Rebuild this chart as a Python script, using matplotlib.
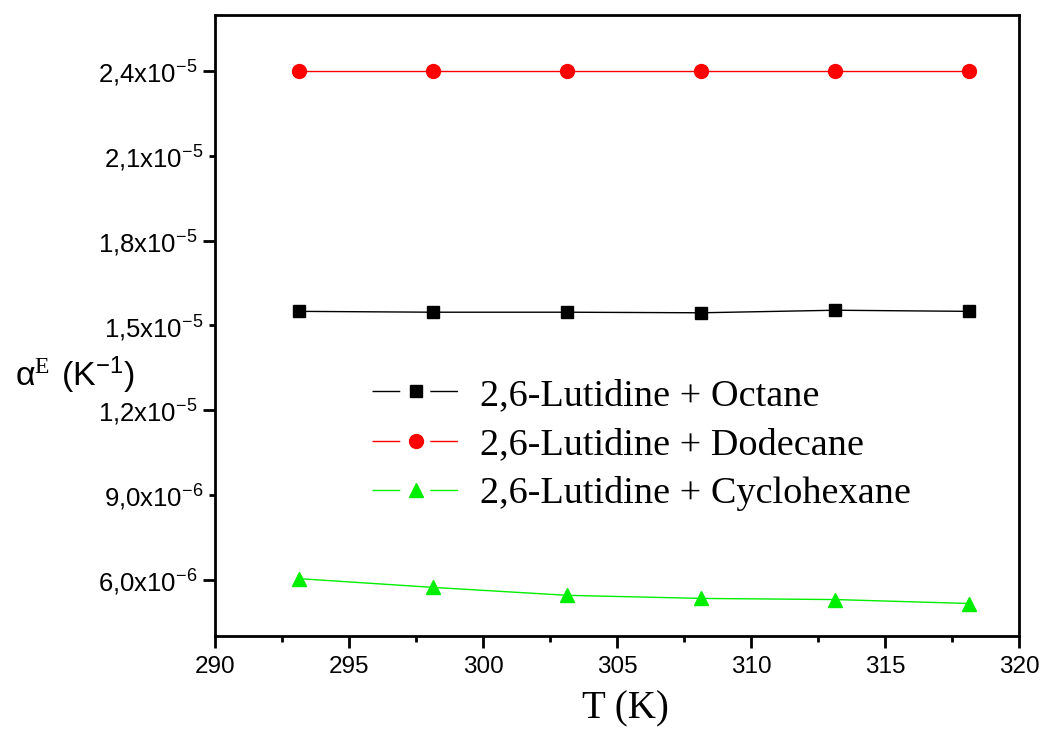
import matplotlib
matplotlib.use("Agg")
import matplotlib.pyplot as plt
from matplotlib.lines import Line2D
from matplotlib.ticker import FixedLocator, FuncFormatter

plt.rcParams["mathtext.fontset"] = "custom"
plt.rcParams["mathtext.rm"] = "Liberation Serif"
plt.rcParams["mathtext.sf"] = "Liberation Sans"
plt.rcParams["mathtext.it"] = "Liberation Sans"

# Temperatures (K)
temperature = [293.15, 298.15, 303.15, 308.15, 313.15, 318.15]

# Excess thermal expansion coefficient alpha^E (K^-1)
octane = [1.550e-5, 1.547e-5, 1.547e-5, 1.545e-5, 1.554e-5, 1.550e-5]
dodecane = [2.400e-5, 2.400e-5, 2.400e-5, 2.400e-5, 2.400e-5, 2.400e-5]
cyclohexane = [6.03e-6, 5.72e-6, 5.44e-6, 5.33e-6, 5.29e-6, 5.15e-6]

series_labels = ["2,6-Lutidine + Octane", "2,6-Lutidine + Dodecane",
                 "2,6-Lutidine + Cyclohexane"]

y_major = [6e-6, 1.2e-5, 1.8e-5, 2.4e-5]
y_minor = [9e-6, 1.5e-5, 2.1e-5]
y_tick_text = {6e-6: "6,0x10$^{\\mathsf{-6}}$", 9e-6: "9,0x10$^{\\mathsf{-6}}$",
               1.2e-5: "1,2x10$^{\\mathsf{-5}}$", 1.5e-5: "1,5x10$^{\\mathsf{-5}}$",
               1.8e-5: "1,8x10$^{\\mathsf{-5}}$", 2.1e-5: "2,1x10$^{\\mathsf{-5}}$",
               2.4e-5: "2,4x10$^{\\mathsf{-5}}$"}
x_major = [290, 295, 300, 305, 310, 315, 320]
x_minor = [292.5, 297.5, 302.5, 307.5, 312.5, 317.5]

fig = plt.figure(figsize=(10.42, 7.31), dpi=100)
ax = fig.add_axes([0.2063, 0.130, 0.7716, 0.8495])

styles = [
    dict(color="black", marker="s", ms=8.5, mfc="black", mec="black"),
    dict(color="red", marker="o", ms=10, mfc="red", mec="red"),
    dict(color="#00ee00", marker="^", ms=10.5, mfc="#00ee00", mec="#00ee00"),
]
for vals, st in zip([octane, dodecane, cyclohexane], styles):
    ax.plot(temperature, vals, lw=1.0, **st)

ax.set_xlim(290, 320)
ax.set_ylim(4e-6, 2.6e-5)

ax.xaxis.set_major_locator(FixedLocator(x_major))
ax.xaxis.set_minor_locator(FixedLocator(x_minor))
ax.yaxis.set_major_locator(FixedLocator(y_major))
ax.yaxis.set_minor_locator(FixedLocator(y_minor))


def ylab(v, pos):
    for k, s in y_tick_text.items():
        if abs(k - v) < 1e-9:
            return s
    return ""


ax.yaxis.set_major_formatter(FuncFormatter(ylab))
ax.yaxis.set_minor_formatter(FuncFormatter(ylab))
ax.xaxis.set_major_formatter(FuncFormatter(lambda v, p: f"{v:.0f}"))

for sp in ax.spines.values():
    sp.set_linewidth(2.0)

ax.tick_params(axis="both", which="major", direction="out", length=8.6, width=2)
ax.tick_params(axis="both", which="minor", direction="out", length=4.3, width=2)
ax.tick_params(axis="x", which="both", pad=6, labelsize=17.5)
ax.tick_params(axis="y", which="both", pad=4, labelsize=18.5)
for lab in ax.get_xticklabels() + ax.get_yticklabels() + \
        ax.get_yticklabels(minor=True):
    lab.set_family("Liberation Sans")

ax.set_xlabel("T (K)", family="Liberation Serif", fontsize=28)
ax.xaxis.set_label_coords(0.51, -0.088, transform=ax.transAxes)
ax.xaxis.label.set_va("top")
fig.text(0.014, 0.487,
         "$\\mathsf{\\alpha}^{\\mathrm{E}}$ $\\mathsf{(K^{-1})}$",
         fontsize=24.5, ha="left", va="center")

handles = []
for st in styles:
    handles.append(Line2D([], [], lw=1.0, linestyle=(0, (20, 21.6)), **st))
leg = ax.legend(handles, series_labels, loc="center left",
                bbox_to_anchor=(0.195, 0.308), frameon=False, numpoints=1,
                handlelength=2.3, handletextpad=0.53, labelspacing=0.38,
                borderpad=0, borderaxespad=0,
                prop={"family": "Liberation Serif", "size": 27.5})

fig.savefig("out.png", dpi=100)
